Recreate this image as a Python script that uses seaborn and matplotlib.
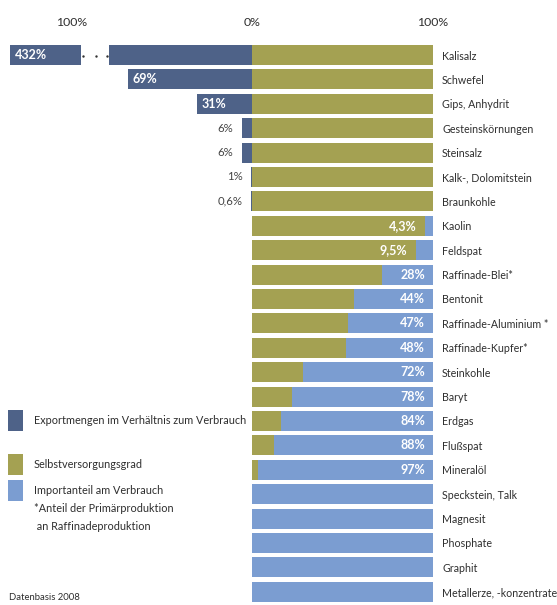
import matplotlib
matplotlib.use("Agg")
import matplotlib.pyplot as plt
from matplotlib.patches import Rectangle
import numpy as np
import pandas as pd
import seaborn as sns

# Rohstoffe, von oben nach unten
categories = [
    "Kalisalz", "Schwefel", "Gips, Anhydrit", "Gesteinskörnungen", "Steinsalz",
    "Kalk-, Dolomitstein", "Braunkohle", "Kaolin", "Feldspat", "Raffinade-Blei*",
    "Bentonit", "Raffinade-Aluminium *", "Raffinade-Kupfer*", "Steinkohle", "Baryt",
    "Erdgas", "Flußspat", "Mineralöl", "Speckstein, Talk", "Magnesit", "Phosphate",
    "Graphit", "Metallerze, -konzentrate",
]
# Exportmengen im Verhältnis zum Verbrauch (%)
export_pct = [432, 69, 31, 6, 6, 1, 0.6] + [0] * 16
# Selbstversorgungsgrad (%)
self_pct = [100, 100, 100, 100, 100, 100, 100, 95.7, 90.5, 72, 56, 53, 52,
            28, 22, 16, 12, 3, 0, 0, 0, 0, 0]
# Importanteil am Verbrauch (%)
import_pct = [0, 0, 0, 0, 0, 0, 0, 4.3, 9.5, 28, 44, 47, 48,
              72, 78, 84, 88, 97, 100, 100, 100, 100, 100]
top_ticks = [-100, 0, 100]
top_tick_labels = ["100%", "0%", "100%"]

legend_labels = [
    "Exportmengen im Verhältnis zum Verbrauch",
    "Selbstversorgungsgrad",
    "Importanteil am Verbrauch\n*Anteil der Primärproduktion\n an Raffinadeproduktion",
]
footnote = "Datenbasis 2008"

C_EXPORT = "#4e6288"
C_SELF = "#a4a152"
C_IMPORT = "#7b9dd1"
C_TEXT = "#2e2e2e"

sns.set_style("white")
plt.rcParams["font.family"] = ["Lato", "DejaVu Sans"]

W, H = 557, 605
fig = plt.figure(figsize=(W / 100, H / 100), dpi=100)

# axes geometry in pixels
x0_px, x100_px = 252.5, 433.0
left_px = 10.0
px_per_pct = (x100_px - x0_px) / 100.0
xmin = -(x0_px - left_px) / px_per_pct
row0_px, row_step = 55.0, 24.4
top_px = row0_px - row_step / 2
bot_px = top_px + row_step * len(categories)
ax = fig.add_axes([left_px / W, 1 - bot_px / H,
                   (x100_px - left_px) / W, (bot_px - top_px) / H])

df = pd.DataFrame({
    "Rohstoff": categories,
    "export": export_pct,
    "self": self_pct,
    "import": import_pct,
})
df["total"] = df["self"] + df["import"]
df["export_neg"] = -df["export"]

bw = 0.82
sns.barplot(data=df, x="total", y="Rohstoff", orient="h", color=C_IMPORT,
            width=bw, saturation=1, ax=ax, linewidth=0)
sns.barplot(data=df, x="self", y="Rohstoff", orient="h", color=C_SELF,
            width=bw, saturation=1, ax=ax, linewidth=0)
sns.barplot(data=df, x="export_neg", y="Rohstoff", orient="h", color=C_EXPORT,
            width=bw, saturation=1, ax=ax, linewidth=0)

ax.set_xlim(xmin, 100)
ax.set_ylim(len(categories) - 0.5, -0.5)

# axis break on the longest export bar
brk_lo, brk_hi = -95.2, -79.3
for i, v in enumerate(export_pct):
    if -v < xmin:
        ax.add_patch(Rectangle((brk_lo, i - bw / 2 - 0.02), brk_hi - brk_lo, bw + 0.04,
                               facecolor="white", edgecolor="none", zorder=5))
        ax.scatter([-93.7, -86.9, -80.5], [i + 0.03] * 3, s=3, color="#333333",
                   zorder=6, linewidths=0)


def fmt(v):
    return f"{v:g}".replace(".", ",") + "%"


lbl_kw = dict(fontsize=9, fontweight="bold", color="white", va="center", zorder=7)
for i, (e, s, im) in enumerate(zip(export_pct, self_pct, import_pct)):
    if e > 0:
        if e >= 20:
            ax.annotate(fmt(e), (max(-e, xmin), i), xytext=(3.6, 0),
                        textcoords="offset points", ha="left", **lbl_kw)
        else:
            ax.annotate(fmt(e), (-e, i), xytext=(-6, 0), textcoords="offset points",
                        ha="right", va="center", fontsize=8.2, color="#444444")
    if 0 < im < 100:
        if im >= 20:
            ax.annotate(fmt(im), (s + im, i), xytext=(-5.6, 0),
                        textcoords="offset points", ha="right", **lbl_kw)
        else:
            ax.annotate(fmt(im), (s, i), xytext=(-6.5, 0),
                        textcoords="offset points", ha="right", **lbl_kw)

for sp in ax.spines.values():
    sp.set_visible(False)
ax.set_xlabel("")
ax.set_ylabel("")
ax.xaxis.tick_top()
ax.set_xticks(top_ticks)
ax.set_xticklabels(top_tick_labels)
ax.tick_params(axis="x", length=0, pad=11, labelsize=8.8, labelcolor=C_TEXT)
ax.yaxis.tick_right()
ax.tick_params(axis="y", length=0, pad=6.5, labelsize=7.7, labelcolor=C_TEXT)
ax.grid(False)

# legend
leg_colors = [C_EXPORT, C_SELF, C_IMPORT]
leg_y = [420, 464, 490.5]
for col, y, txt in zip(leg_colors, leg_y, legend_labels):
    fig.patches.append(Rectangle((8 / W, 1 - (y + 10.5) / H), 15 / W, 21 / H,
                                 transform=fig.transFigure, facecolor=col,
                                 edgecolor="none"))
    fig.text(34 / W, 1 - (y - 5.5) / H, txt, ha="left", va="top", fontsize=7.8,
             color=C_TEXT, linespacing=1.75)

fig.text(9 / W, 1 - 598 / H, footnote, ha="left", va="center", fontsize=6.8,
         color=C_TEXT)

fig.savefig("out.png", dpi=100, facecolor="white")
